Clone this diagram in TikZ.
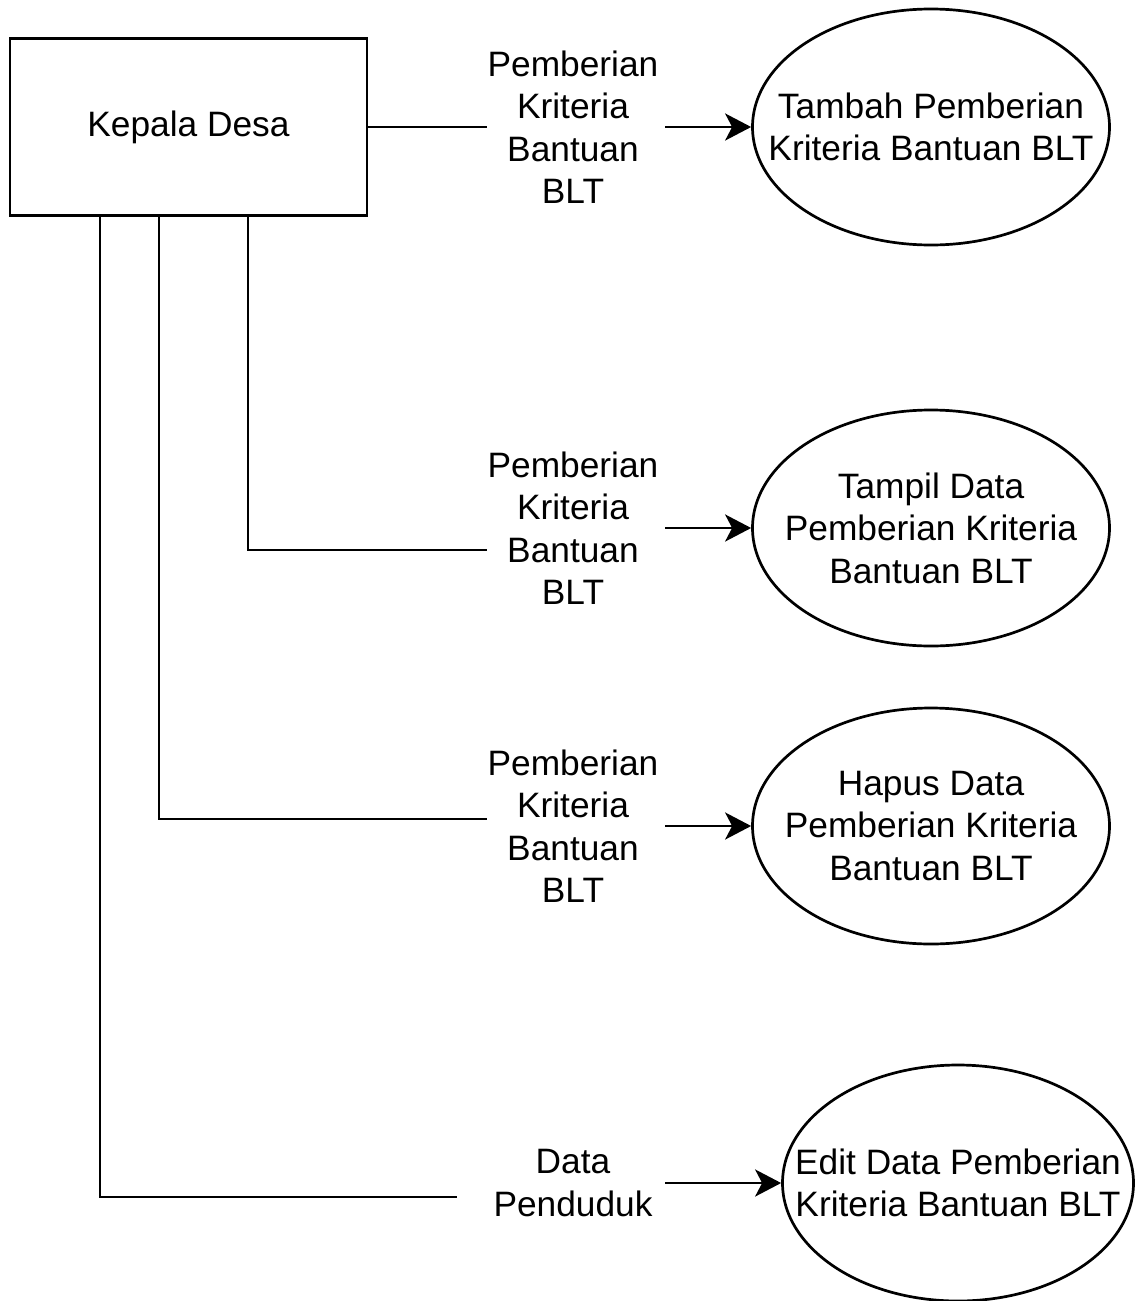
\documentclass[tikz,border=0pt]{standalone}
\usepackage{fontspec}
\setmainfont{Liberation Sans}
\usetikzlibrary{arrows.meta,shapes.geometric}
\begin{document}
\begin{tikzpicture}[x=1pt,y=-1pt,
  every node/.style={font=\fontsize{35.3}{42.5}\selectfont},
  wire/.style={line width=2.9pt},
  flow/.style={wire,-{Stealth[length=26pt,width=27pt,inset=7pt]}},
  entity/.style={draw,line width=2.9pt,minimum width=357pt,minimum height=177pt,inner sep=0pt},
  proc/.style={draw,ellipse,line width=2.7pt,minimum width=357pt,minimum height=236pt,inner sep=0pt},
  flowlabel/.style={align=center,text width=172pt,inner sep=0pt},
  proclabel/.style={align=center,inner sep=0pt}]
\useasboundingbox (0,0) rectangle (1135,1301);

% external entity
\node[entity] (kd) at (188.5,127) {};
\node[proclabel] (kdt) at (kd.center) {Kepala Desa};

% processes
\node[proc] (p1) at (931,127) {};
\node[proclabel] at (p1.center) {Tambah Pemberian\\Kriteria Bantuan BLT};
\node[proc] (p2) at (931,528) {};
\node[proclabel] at (p2.center) {Tampil Data\\Pemberian Kriteria\\Bantuan BLT};
\node[proc] (p3) at (931,826) {};
\node[proclabel] at (p3.center) {Hapus Data\\Pemberian Kriteria\\Bantuan BLT};
\node[proc,minimum width=351pt] (p4) at (958,1183) {};
\node[proclabel] at (p4.center) {Edit Data Pemberian\\Kriteria Bantuan BLT};

% data flow labels
\node[flowlabel] (l1) at (573,127) {Pemberian\\Kriteria\\Bantuan\\BLT};
\node[flowlabel] (l2) at (573,528) {Pemberian\\Kriteria\\Bantuan\\BLT};
\node[flowlabel] (l3) at (573,826) {Pemberian\\Kriteria\\Bantuan\\BLT};
\node[flowlabel] (l4) at (573,1183) {Data\\Penduduk};

% bends of the flows leaving the entity
\coordinate (c2) at (248,550);
\coordinate (c3) at (159,819);
\coordinate (c4) at (100,1197);

% flows
\draw[wire] (kd.east) -- (l1.west |- kd.east);
\draw[flow] ([xshift=6pt]l1.east) -- (p1.west);

\draw[wire] (kd.south -| c2) -- (c2) -- (l2.west |- c2);
\draw[flow] ([xshift=6pt]l2.east) -- (p2.west);

\draw[wire] (kd.south -| c3) -- (c3) -- (l3.west |- c3);
\draw[flow] ([xshift=6pt]l3.east) -- (p3.west);

\draw[wire] (kd.south -| c4) -- (c4) -- ([xshift=-30pt]l4.west |- c4);
\draw[flow] ([xshift=6pt]l4.east) -- (p4.west);
\end{tikzpicture}
\end{document}
